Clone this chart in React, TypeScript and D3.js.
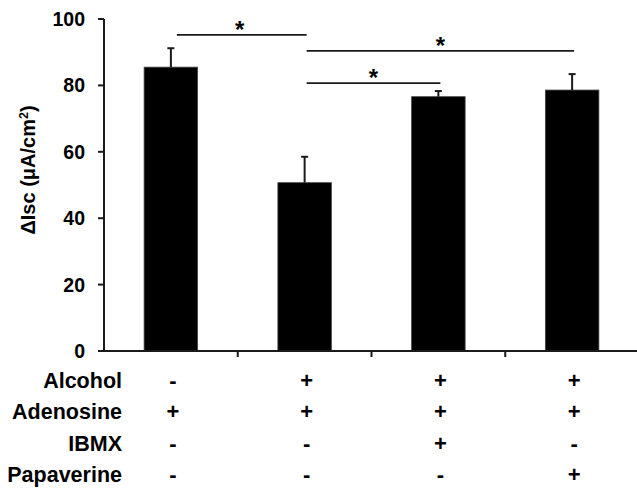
import React from 'react';
import * as d3 from 'd3';

// bar values (ΔIsc, µA/cm²) and upper SEM
const groups = ['g1', 'g2', 'g3', 'g4'];
const means = [85.5, 50.7, 76.6, 78.6];
const errors = [5.7, 7.8, 1.7, 4.8];

// treatment table under the axis
const rowLabels = ['Alcohol', 'Adenosine', 'IBMX', 'Papaverine'];
const rowSigns = [
  ['-', '+', '+', '+'],
  ['+', '+', '+', '+'],
  ['-', '-', '+', '-'],
  ['-', '-', '-', '+'],
];

const yTicks = [0, 20, 40, 60, 80, 100];

// significance brackets: from group, to group, height in data units
const sigFrom = [0, 1, 1];
const sigTo = [1, 3, 2];
const sigLevel = [95.2, 90.4, 80.7];

const W = 637;
const H = 488;
const font = '"Liberation Sans", Arial, sans-serif';
const ink = '#1a1a1a';

export default function App() {
  const x = d3.scaleBand<string>()
    .domain(groups)
    .range([104, 639])
    .paddingInner(0.6)
    .paddingOuter(0.3);
  const y = d3.scaleLinear().domain([0, 100]).range([351, 19]);
  const step = x.step();
  const cx = (i: number) => (x(groups[i]) as number) + x.bandwidth() / 2;
  const bounds = d3.range(1, groups.length).map(i => 104 + step * i);

  return (
    <svg width={W} height={H} style={{ position: 'absolute', left: 0, top: 0, background: '#fff' }}
      fontFamily={font} fontWeight="bold">
      {/* bars */}
      {means.map((m, i) => (
        <rect key={i} x={x(groups[i])} y={y(m)} width={x.bandwidth()} height={y(0) - y(m)}
          fill="#000" stroke="#444" strokeWidth={0.8} />
      ))}
      {/* error bars (upper only) */}
      {means.map((m, i) => (
        <g key={'e' + i} stroke={ink} strokeWidth={2}>
          <line x1={cx(i)} x2={cx(i)} y1={y(m)} y2={y(m + errors[i])} />
          <line x1={cx(i) - 3.5} x2={cx(i) + 3.5} y1={y(m + errors[i])} y2={y(m + errors[i])} />
        </g>
      ))}
      {/* y axis */}
      <line x1={104} x2={104} y1={y(100)} y2={y(0)} stroke={ink} strokeWidth={2} />
      {yTicks.map(t => (
        <g key={t}>
          <line x1={98} x2={104} y1={y(t)} y2={y(t)} stroke={ink} strokeWidth={2} />
          <text x={85} y={y(t)} dy="0.36em" textAnchor="end" fontSize={19.5} fill="#000">{t}</text>
        </g>
      ))}
      <text transform={`translate(35,${170}) rotate(-90)`} textAnchor="middle" fontSize={20} fill="#000">
        ΔIsc (μA/cm<tspan fontSize={12.5} dy={-7.5}>2</tspan><tspan dy={7.5}>)</tspan>
      </text>
      {/* x axis */}
      <line x1={103} x2={W} y1={y(0)} y2={y(0)} stroke={ink} strokeWidth={2} />
      {bounds.map((b, i) => (
        <line key={i} x1={b} x2={b} y1={y(0)} y2={y(0) + 6} stroke={ink} strokeWidth={2} />
      ))}
      {/* significance */}
      {sigLevel.map((lv, i) => {
        const a = cx(sigFrom[i]);
        const b = cx(sigTo[i]);
        return (
          <g key={'s' + i}>
            <line x1={a + (sigFrom[i] === 0 ? 6 : 2)} x2={b + 2} y1={y(lv)} y2={y(lv)} stroke={ink} strokeWidth={1.8} />
            <text x={(a + b) / 2 + 2} y={y(lv) + 3} textAnchor="middle" fontSize={24} fill="#000">*</text>
          </g>
        );
      })}
      {/* treatment table */}
      {rowLabels.map((r, ri) => (
        <g key={r}>
          <text x={122} y={388 + ri * 31.3} textAnchor="end" fontSize={21.5} fill="#000">{r}</text>
          {rowSigns[ri].map((s, gi) => (
            <text key={gi} x={cx(gi) + 2} y={388 + ri * 31.3} textAnchor="middle" fontSize={22} fill="#000">{s}</text>
          ))}
        </g>
      ))}
    </svg>
  );
}
